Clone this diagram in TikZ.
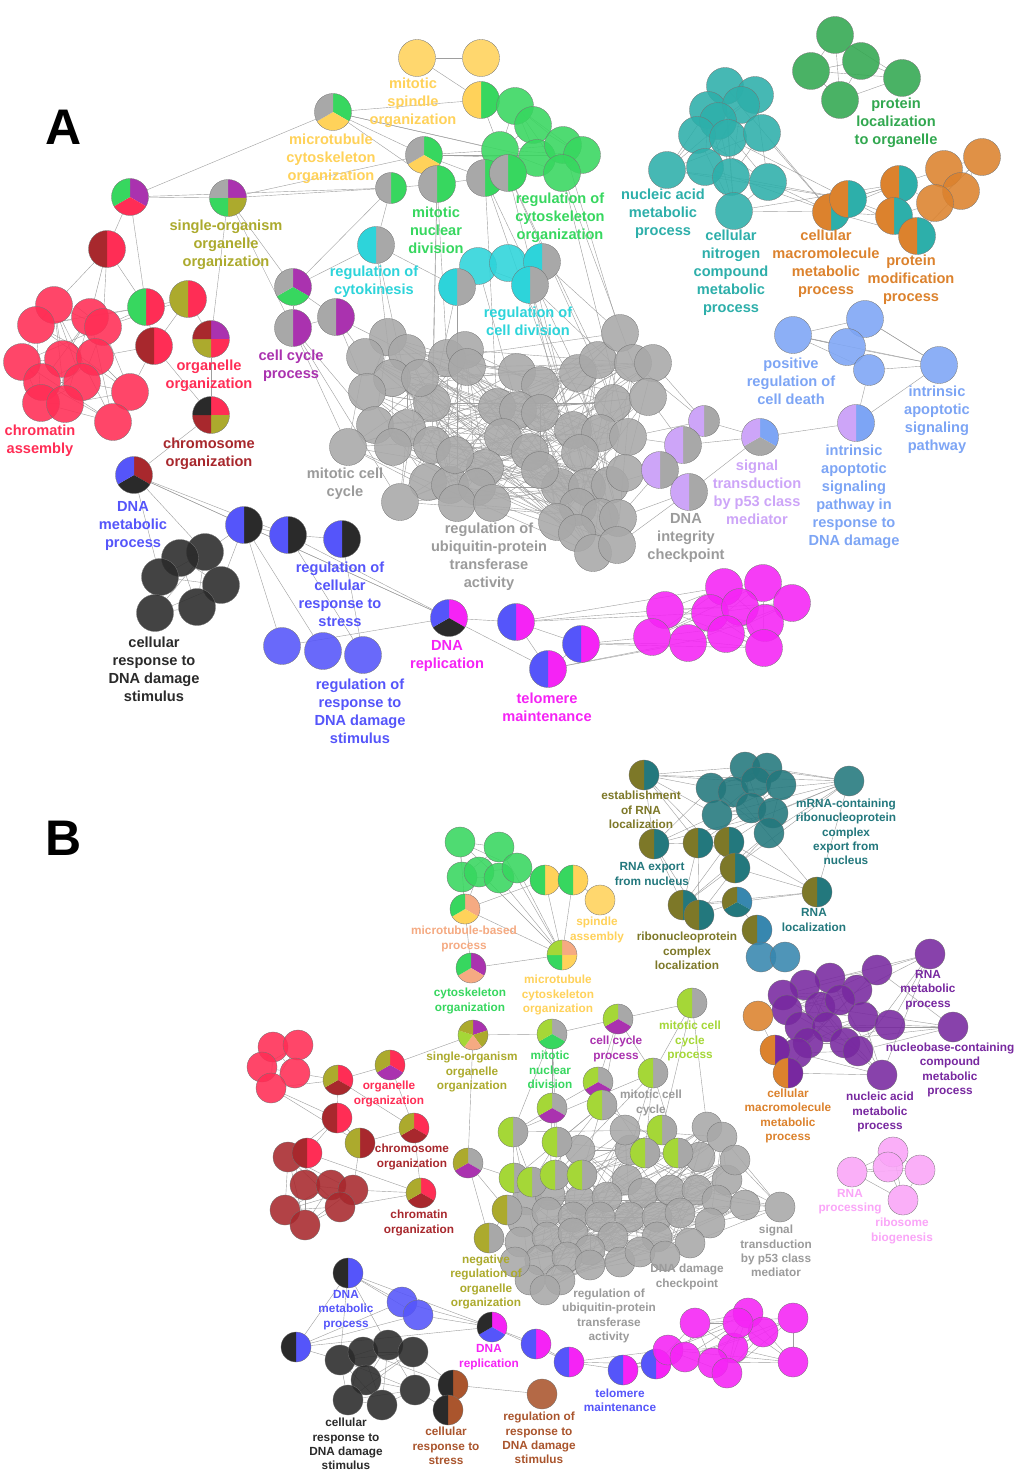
\documentclass[tikz,border=0pt]{standalone}
\usepackage{fontspec}
\setmainfont{Liberation Sans}
\pgfdeclarelayer{bg}
\pgfdeclarelayer{paper}
\pgfsetlayers{paper,bg,main}
\definecolor{cRed}{RGB}{255,45,85}
\definecolor{cDrd}{RGB}{168,40,45}
\definecolor{cGrn}{RGB}{55,215,95}
\definecolor{cYel}{RGB}{255,210,90}
\definecolor{cGry}{RGB}{168,168,168}
\definecolor{cGtx}{RGB}{155,155,155}
\definecolor{cPur}{RGB}{170,50,175}
\definecolor{cOli}{RGB}{172,170,45}
\definecolor{cCya}{RGB}{45,212,218}
\definecolor{cTea}{RGB}{45,175,170}
\definecolor{cPgr}{RGB}{50,168,80}
\definecolor{cOra}{RGB}{220,130,45}
\definecolor{cCor}{RGB}{125,165,245}
\definecolor{cLav}{RGB}{205,165,248}
\definecolor{cBlu}{RGB}{85,85,250}
\definecolor{cBlk}{RGB}{42,42,42}
\definecolor{cMag}{RGB}{245,35,245}
\definecolor{cBte}{RGB}{35,120,125}
\definecolor{cBol}{RGB}{125,120,40}
\definecolor{cSte}{RGB}{55,135,175}
\definecolor{cBpu}{RGB}{120,40,160}
\definecolor{cPnk}{RGB}{250,165,248}
\definecolor{cSal}{RGB}{245,170,130}
\definecolor{cYgr}{RGB}{165,215,55}
\definecolor{cBrn}{RGB}{170,85,45}
\tikzset{
  na/.style={circle,inner sep=0pt,minimum size=37pt,draw=black!55,line width=0.3pt},
  nas/.style={na,minimum size=31pt},
  nb/.style={circle,inner sep=0pt,minimum size=30pt,draw=black!55,line width=0.3pt},
  fs/.style={fill=#1,fill opacity=0.88},
  pie/.style 2 args={path picture={
    \begin{scope}[shift={(path picture bounding box.center)}]
    \foreach \col [count=\ii from 0] in {#2}{
      \pgfmathsetmacro\angA{90-\ii*360/#1}
      \pgfmathsetmacro\angB{90-(\ii+0.5)*360/#1}
      \pgfmathsetmacro\angC{90-(\ii+1)*360/#1}
      \fill[\col] (0,0) -- (\angA:40pt) -- (\angB:40pt) -- (\angC:40pt) -- cycle;}
    \end{scope}}},
  lnk/.style={draw=black!38,line width=0.4pt},
  la/.style={font=\fontsize{14.6}{18}\selectfont\bfseries,align=center,inner sep=0pt,text=#1},
  lb/.style={font=\fontsize{11.8}{14.3}\selectfont\bfseries,align=center,inner sep=0pt,text=#1}
}
\newcommand\meshit[3]{\foreach \ii in {1,...,#2}{\foreach \kk in {#3}{\pgfmathtruncatemacro\jj{mod(\ii+\kk-1,#2)+1}\draw[lnk] (#1\ii) -- (#1\jj);}}}
\begin{document}
\begin{tikzpicture}[x=1pt,y=-1pt]
\begin{pgfonlayer}{paper}
\fill[white] (0,0) rectangle (1020,1474);
\end{pgfonlayer}
\useasboundingbox (0,0) rectangle (1020,1474);
% ================= PANEL A =================
\node[font=\fontsize{50}{50}\selectfont\bfseries,inner sep=0pt] (letA) at (64,127) {A};
\node[font=\fontsize{50}{50}\selectfont\bfseries,inner sep=0pt] (letB) at (64,838) {B};
% gray cluster A
\foreach \x/\y [count=\i] in {388/337,407/353,365/357,392/378,367/392,447/358,465/350,467/367,432/403,375/425,407/428,348/447,393/447,432/445,517/372,540/385,497/407,518/410,540/413,503/437,578/373,598/360,620/333,633/363,653/363,613/403,648/397,573/430,600/433,628/437,580/453,485/468,428/482,450/485,477/487,400/502,457/503,492/503,560/487,587/487,610/485,625/473,578/507,557/522,600/517,618/518,577/533,593/553,617/545,530/452,455/455,540/470,420/378}
  \node[na,fs=cGry] (aX\i) at (\x,\y) {};
% yellow / green top
\foreach \x/\y [count=\i] in {417/58,481/58} \node[na,fs=cYel] (aY\i) at (\x,\y) {};
\node[na,pie={2}{cGrn,cYel}] (aMs) at (481,100) {};
\foreach \x/\y [count=\i] in {515/106,533/125,500/150,537/158,563/145,582/155,562/173} \node[na,fs=cGrn] (aG\i) at (\x,\y) {};
\node[na,pie={3}{cGrn,cYel,cGry}] (aMtA) at (333,112) {};
\node[na,pie={3}{cGrn,cYel,cGry}] (aMtB) at (424,155) {};
\node[nas,pie={2}{cGrn,cGry}] (aH1) at (391,188) {};
\foreach \x/\y [count=\i from 2] in {437/184,485/178,508/173} \node[na,pie={2}{cGrn,cGry}] (aH\i) at (\x,\y) {};
\node[na,pie={3}{cPur,cRed,cGrn}] (aTri) at (130,197) {};
\node[na,pie={4}{cPur,cOli,cGrn,cGry}] (aSo) at (228,198) {};
% cyan
\node[na,pie={2}{cGry,cCya}] (aCy1) at (376,245) {};
\foreach \x/\y [count=\i] in {478/266,508/263} \node[na,fs=cCya] (aC\i) at (\x,\y) {};
\foreach \x/\y [count=\i from 2] in {457/287,542/262,530/285} \node[na,pie={2}{cGry,cCya}] (aCy\i) at (\x,\y) {};
% purple
\node[na,pie={3}{cPur,cGrn,cGry}] (aCcA) at (293,287) {};
\node[na,pie={2}{cPur,cGry}] (aCcB) at (293,328) {};
\node[na,pie={2}{cPur,cGry}] (aCcC) at (336,317) {};
% red
\foreach \x/\y [count=\i] in {54/305,36/325,90/317,103/327,22/362,63/359,95/357,42/382,82/382,41/403,65/404,130/392,113/422}
  \node[na,fs=cRed] (aR\i) at (\x,\y) {};
\node[na,pie={2}{cRed,cDrd}] (aRa) at (107,249) {};
\node[na,pie={2}{cRed,cGrn}] (aRb) at (146,307) {};
\node[na,pie={2}{cRed,cOli}] (aRc) at (188,299) {};
\node[na,pie={4}{cPur,cRed,cOli,cDrd}] (aRd) at (211,339) {};
\node[na,pie={2}{cRed,cDrd}] (aRe) at (154,346) {};
\node[na,pie={4}{cRed,cOli,cDrd,cBlk}] (aRf) at (211,415) {};
% teal
\foreach \x/\y [count=\i] in {725/86,755/95,708/110,741/105,718/121,697/135,728/138,762/133,667/170,705/167,731/177,768/182,734/211}
  \node[na,fs=cTea] (aT\i) at (\x,\y) {};
% protein localization
\foreach \x/\y [count=\i] in {835/35,811/71,861/61,902/78,840/100} \node[na,fs=cPgr] (aP\i) at (\x,\y) {};
% orange
\foreach \x/\y [count=\i] in {944/169,982/157,961/191,935/203} \node[na,fs=cOra] (aO\i) at (\x,\y) {};
\foreach \x/\y [count=\i] in {831/212,848/199,899/184,894/216,917/236} \node[na,pie={2}{cTea,cOra}] (aQ\i) at (\x,\y) {};
% cornflower / lavender
\foreach \x/\y [count=\i] in {793/335,865/319,847/347,939/365} \node[na,fs=cCor] (aB\i) at (\x,\y) {};
\node[nas,fs=cCor] (aB5) at (869,370) {};
\node[na,pie={2}{cCor,cLav}] (aIa) at (856,423) {};
\node[na,pie={3}{cCor,cGry,cLav}] (aSp) at (760,437) {};
\node[nas,pie={2}{cGry,cLav}] (aL1) at (704,421) {};
\foreach \x/\y [count=\i from 2] in {683/445,660/470,689/492} \node[na,pie={2}{cGry,cLav}] (aL\i) at (\x,\y) {};
% bottom A
\node[na,pie={3}{cDrd,cBlk,cBlu}] (aDm) at (134,475) {};
\foreach \x/\y [count=\i] in {244/525,288/535,342/539} \node[na,pie={2}{cBlk,cBlu}] (aN\i) at (\x,\y) {};
\foreach \x/\y [count=\i] in {205/552,180/558,160/577,221/585,155/613,197/607} \node[na,fs=cBlk] (aK\i) at (\x,\y) {};
\foreach \x/\y [count=\i] in {282/646,323/651,363/655} \node[na,fs=cBlu] (aU\i) at (\x,\y) {};
\node[na,pie={3}{cMag,cBlk,cBlu}] (aDr) at (449,618) {};
\foreach \x/\y [count=\i] in {516/622,581/644,548/669} \node[na,pie={2}{cMag,cBlu}] (aV\i) at (\x,\y) {};
\foreach \x/\y [count=\i] in {665/610,724/587,763/583,792/603,710/613,740/607,765/623,652/637,688/643,726/634,764/648}
  \node[na,fs=cMag] (aM\i) at (\x,\y) {};
% ================= PANEL B =================
\foreach \x/\y [count=\i] in {707/1127,722/1137,630/1150,700/1157,727/1180,627/1180,643/1193,670/1190,697/1190,717/1200,630/1217,657/1217,680/1213,710/1223,690/1243,657/1237,527/1200,550/1195,580/1200,607/1197,523/1222,547/1212,573/1217,600/1217,613/1237,520/1242,547/1237,573/1233,590/1250,540/1260,567/1257,590/1265,530/1280,560/1280,545/1290,620/1262,640/1252,735/1160,745/1205,665/1256,515/1262,625/1130,580/1150}
  \node[nb,fs=cGry] (bX\i) at (\x,\y) {};
\node[nb,fs=cGry] (bSig) at (780,1207) {};
% teal/olive
\foreach \x/\y [count=\i] in {745/767,767/768,711/788,733/792,756/782,781/785,717/815,751/808,773/813,769/833,849/781}
  \node[nb,fs=cBte] (bT\i) at (\x,\y) {};
\foreach \x/\y [count=\i] in {644/775,654/844,698/843,729/842,735/868,817/892,683/905,699/915}
  \node[nb,pie={2}{cBte,cBol}] (bQ\i) at (\x,\y) {};
\node[nb,pie={3}{cSte,cBte,cBol}] (bRc) at (737,902) {};
\node[nb,pie={2}{cSte,cBol}] (bOb) at (757,930) {};
\foreach \x/\y [count=\i] in {761/957,785/957} \node[nb,fs=cSte] (bS\i) at (\x,\y) {};
% green B
\foreach \x/\y [count=\i] in {460/842,499/847,462/877,479/872,499/878,517/868} \node[nb,fs=cGrn] (bG\i) at (\x,\y) {};
\foreach \x/\y [count=\i] in {545/880,573/880} \node[nb,pie={2}{cYel,cGrn}] (bGy\i) at (\x,\y) {};
\node[nb,fs=cYel] (bY1) at (600,900) {};
\node[nb,pie={3}{cSal,cYel,cGrn}] (bMb) at (465,909) {};
\node[nb,pie={4}{cSal,cYel,cGrn,cYgr}] (bMc) at (562,955) {};
\node[nb,pie={3}{cPur,cSal,cGrn}] (bCo) at (471,968) {};
\node[nb,pie={5}{cPur,cOli,cSal,cYgr,cOli}] (bSo) at (473,1035) {};
\node[nb,pie={3}{cRed,cPur,cOli}] (bOo) at (390,1065) {};
\node[nb,pie={3}{cGry,cGrn,cYgr}] (bMn) at (552,1034) {};
\node[nb,pie={3}{cGry,cPur,cYgr}] (bCc) at (618,1019) {};
\node[nb,pie={2}{cGry,cYgr}] (bMcc) at (692,1003) {};
\node[nb,pie={3}{cGry,cPur,cYgr}] (bPa) at (598,1082) {};
\foreach \x/\y [count=\i] in {653/1073,602/1105,513/1132,557/1142,662/1130,645/1153,678/1153,514/1178,532/1182,555/1175,582/1175}
  \node[nb,pie={2}{cGry,cYgr}] (bW\i) at (\x,\y) {};
\node[nb,pie={3}{cGry,cPur,cYgr}] (bPb) at (552,1108) {};
\foreach \x/\y [count=\i] in {507/1210,489/1238} \node[nb,pie={2}{cGry,cOli}] (bE\i) at (\x,\y) {};
\node[nb,pie={3}{cGry,cPur,cOli}] (bNeg) at (468,1163) {};
% red B
\foreach \x/\y [count=\i] in {273/1047,298/1045,262/1067,295/1073,271/1088} \node[nb,fs=cRed] (bR\i) at (\x,\y) {};
\foreach \x/\y [count=\i] in {288/1157,305/1185,331/1185,353/1190,285/1210,340/1207,305/1225} \node[nb,fs=cDrd] (bD\i) at (\x,\y) {};
\node[nb,pie={3}{cRed,cDrd,cOli}] (bRa) at (338,1080) {};
\node[nb,pie={2}{cRed,cDrd}] (bRb) at (337,1118) {};
\node[nb,pie={3}{cRed,cDrd,cOli}] (bRx) at (414,1128) {};
\node[nb,pie={2}{cDrd,cOli}] (bRd) at (360,1143) {};
\node[nb,pie={2}{cRed,cDrd}] (bRe) at (307,1153) {};
\node[nb,pie={3}{cRed,cDrd,cOli}] (bChr) at (421,1193) {};
% purple B
\foreach \x/\y [count=\i] in {930/954,877/970,830/978,805/985,783/995,857/990,820/1007,840/1000,787/1010,800/1027,827/1027,863/1017,890/1025,953/1027,808/1043,845/1043,858/1051,797/1053,882/1075}
  \node[nb,fs=cBpu] (bU\i) at (\x,\y) {};
\node[nb,fs=cOra] (bO1) at (758,1016) {};
\foreach \x/\y [count=\i] in {775/1050,788/1073} \node[nb,pie={2}{cBpu,cOra}] (bOp\i) at (\x,\y) {};
\foreach \x/\y [count=\i] in {852/1172,893/1152,888/1167,920/1170,903/1200} \node[nb,fs=cPnk] (bPk\i) at (\x,\y) {};
% bottom B
\foreach \x/\y [count=\i] in {348/1273,296/1347} \node[nb,pie={2}{cBlu,cBlk}] (bN\i) at (\x,\y) {};
\foreach \x/\y [count=\i] in {402/1302,418/1315} \node[nb,fs=cBlu] (bBl\i) at (\x,\y) {};
\foreach \x/\y [count=\i] in {340/1360,363/1352,388/1345,413/1352,366/1380,415/1390,348/1400,382/1405} \node[nb,fs=cBlk] (bK\i) at (\x,\y) {};
\foreach \x/\y [count=\i] in {453/1385,448/1410} \node[nb,pie={2}{cBrn,cBlk}] (bBr\i) at (\x,\y) {};
\node[nb,fs=cBrn] (bBs) at (542,1394) {};
\node[nb,pie={3}{cMag,cBlu,cBlk}] (bDr) at (492,1327) {};
\foreach \x/\y [count=\i] in {536/1344,569/1362,623/1370,656/1364} \node[nb,pie={2}{cMag,cBlu}] (bV\i) at (\x,\y) {};
\foreach \x/\y [count=\i] in {695/1323,748/1313,763/1332,733/1348,668/1350,685/1357,713/1363,727/1373,793/1318,793/1362,738/1323}
  \node[nb,fs=cMag] (bM\i) at (\x,\y) {};
% ================= EDGES =================
\begin{pgfonlayer}{bg}
\meshit{aX}{53}{4,9,17,25}
\meshit{aR}{13}{1,3,5}
\meshit{aT}{13}{1,3,6}
\meshit{aM}{11}{1,3,5}
\meshit{aK}{6}{1,2}
\meshit{aO}{4}{1,2}
\meshit{aQ}{5}{1,2}
\meshit{aB}{4}{1,2}
\meshit{aP}{5}{1,2}
\meshit{aG}{7}{1,2,3}
\foreach \u/\v in {aY1/aY2,aY1/aMs,aMs/aMtA,aMs/aG1,aMs/aG3,aMtA/aMtB,aMtA/aTri,aMtA/aG3,aMtA/aG4,aMtA/aH2,aMtB/aG3,aMtB/aG4,aMtB/aG6,aMtB/aH2,aMtB/aH3,aTri/aSo,aTri/aH1,aTri/aRb,aTri/aRa,aSo/aH1,aSo/aMtB,aSo/aRd,aSo/aCcA,aSo/aCcB,aH1/aH2,aH2/aH3,aH3/aH4,aH1/aCy1,aH1/aCcA,aH2/aX6,aH2/aX14,aH2/aX9,aH3/aX21,aH3/aX17,aH3/aX28,aH4/aX26,aH4/aX40,aH4/aX22,aG7/aX30,aG7/aX24,aG5/aX23,aCy1/aX4,aCy1/aX33,aCy1/aCy2,aCy1/aCcA,aCy2/aX9,aCy2/aC1,aC1/aC2,aC2/aCy3,aCy3/aCy4,aC1/aCy4,aCy3/aX23,aCy4/aX27,aCy4/aX45,aC1/aX18,aC2/aX29,aCy2/aX37,aCy4/aX48,aCcA/aCcB,aCcA/aCcC,aCcB/aX12,aCcB/aX10,aCcB/aX36,aCcC/aX3,aCcC/aX5,aCcC/aX2,aCcB/aCcC}
  \draw[lnk] (\u) -- (\v);
\foreach \u/\v in {aRa/aR1,aRa/aR3,aRa/aRb,aRa/aR4,aRb/aR4,aRb/aRc,aRb/aR3,aRb/aRe,aRc/aRe,aRc/aRd,aRe/aR7,aRe/aR12,aRe/aRf,aRd/aRf,aRf/aDm,aRc/aR4,aRb/aR2,aDm/aK1,aDm/aK3,aDm/aN1,aDm/aN2,aDm/aDr,aN1/aN2,aN2/aN3,aN1/aK1,aN1/aK4,aN1/aU1,aN1/aU2,aN2/aU3,aN2/aDr,aN3/aU3,aU1/aDr,aN1/aDr,aDr/aV1,aDr/aV3,aV1/aV2,aV2/aV3,aV1/aV3,aV1/aM1,aV1/aM5,aV1/aM2,aV2/aM8,aV2/aM9,aV2/aM11,aV3/aM9,aV3/aM10}
  \draw[lnk] (\u) -- (\v);
\foreach \u/\v in {aL1/aX25,aL1/aX30,aL1/aX24,aL2/aX27,aL2/aX42,aL2/aX30,aL3/aX46,aL3/aX41,aL3/aX42,aL4/aX49,aL4/aX46,aL1/aL2,aL2/aL3,aL3/aL4,aL1/aSp,aL2/aSp,aL4/aSp,aSp/aIa,aIa/aB4,aIa/aB5,aB5/aB4,aB1/aB5,aB3/aB5,aT13/aQ1,aT12/aQ1,aT11/aQ2,aT8/aQ1,aT10/aQ1,aT9/aQ2,aT7/aQ2,aT4/aQ1,aT13/aQ3,aQ3/aO4,aQ4/aO4,aQ2/aQ3,aQ3/aO1,aQ5/aO3}
  \draw[lnk] (\u) -- (\v);
\meshit{bT}{11}{1,2,4}
\meshit{bG}{6}{1,2}
\meshit{bR}{5}{1,2}
\meshit{bD}{7}{1,2,3}
\meshit{bU}{19}{1,3,7}
\meshit{bX}{43}{3,7,12,18}
\meshit{bK}{8}{1,2,3}
\meshit{bM}{11}{1,3,5}
\meshit{bPk}{5}{1,2}
\meshit{bW}{11}{2,5}
\foreach \u/\v in {bQ1/bT3,bQ1/bT1,bQ1/bT5,bQ1/bT7,bQ1/bQ2,bQ1/bQ3,bQ1/bQ5,bQ2/bT3,bQ2/bT7,bQ2/bQ3,bQ2/bQ7,bQ2/bQ8,bQ3/bT8,bQ3/bQ4,bQ3/bQ7,bQ4/bT9,bQ4/bQ6,bQ4/bQ7,bQ5/bT10,bQ5/bQ6,bQ6/bT11,bQ6/bT4,bQ6/bRc,bQ7/bRc,bQ8/bRc,bRc/bOb,bOb/bS1,bS1/bS2,bT11/bQ1,bT11/bQ3,bT11/bQ7,bT10/bQ7,bT9/bQ2,bQ5/bQ8,bQ3/bQ8,bQ6/bQ7}
  \draw[lnk] (\u) -- (\v);
\foreach \u/\v in {bG1/bMb,bG3/bMb,bG4/bMb,bG2/bMc,bG4/bMc,bG5/bMc,bG6/bMc,bGy1/bMc,bGy2/bMc,bGy1/bMb,bGy2/bY1,bGy1/bGy2,bG6/bGy1,bMb/bMc,bMb/bCo,bCo/bMc,bSo/bMn,bMn/bCc,bCc/bMcc,bSo/bOo,bSo/bNeg,bOo/bRa,bOo/bRx,bRa/bR4,bRa/bR5,bRa/bRb,bRb/bRe,bRb/bRd,bRb/bD1,bRd/bRx,bRd/bD4,bRd/bR5,bRx/bChr,bRx/bRa,bChr/bD4,bChr/bD6,bChr/bRe,bRe/bD2,bRe/bD1,bR5/bRb}
  \draw[lnk] (\u) -- (\v);
\foreach \u/\v in {bMn/bPb,bMn/bW3,bMn/bW4,bCc/bPa,bCc/bW1,bCc/bW2,bMcc/bW1,bMcc/bW5,bMcc/bX1,bPa/bW2,bPa/bW6,bPa/bPb,bPb/bW3,bPb/bW4,bPb/bX18,bW1/bX3,bW2/bX17,bW5/bX4,bW6/bX8,bW7/bX10,bW8/bX21,bW9/bX22,bW10/bX19,bW11/bX20,bW3/bX17,bW4/bX23,bE1/bX21,bE1/bX26,bE2/bX26,bE2/bX30,bE1/bE2,bNeg/bE1,bNeg/bE2,bNeg/bW8,bSig/bX5,bSig/bX10,bSig/bX14,bSig/bX2,bSig/bX15,bSig/bX9,bSig/bX38,bSig/bX39,bO1/bOp1,bOp1/bOp2,bOp1/bU10,bOp2/bU15,bO1/bU5,bOp2/bU19}
  \draw[lnk] (\u) -- (\v);
\foreach \u/\v in {bN1/bBl1,bN1/bN2,bN1/bK1,bN1/bK3,bN1/bBl2,bN1/bDr,bN2/bK1,bN2/bBl1,bN2/bDr,bN2/bBl2,bBl1/bBl2,bBl2/bDr,bBl1/bDr,bK4/bBr1,bK6/bBr2,bBr1/bBr2,bBr1/bBs,bDr/bV1,bDr/bV2,bV1/bV2,bV2/bV3,bV3/bV4,bV2/bV4,bV2/bM5,bV3/bM6,bV4/bM1,bV4/bM5,bV3/bM5,bV4/bM6,bK2/bBr1}
  \draw[lnk] (\u) -- (\v);
\end{pgfonlayer}
% ================= LABELS A =================
\node[la=cYel] (tA1) at (413,103) {mitotic\\spindle\\organization};
\node[la=cYel] (tA2) at (331,159) {microtubule\\cytoskeleton\\organization};
\node[la=cOli] (tA3) at (226,245) {single-organism\\organelle\\organization};
\node[la=cGrn] (tA4) at (436,230) {mitotic\\nuclear\\division};
\node[la=cGrn] (tA5) at (560,218) {regulation of\\cytoskeleton\\organization};
\node[la=cCya] (tA6) at (374,282) {regulation of\\cytokinesis};
\node[la=cCya] (tA7) at (528,321) {regulation of\\cell division};
\node[la=cPur] (tA8) at (291,366) {cell cycle\\process};
\node[la=cRed] (tA9) at (209,376) {organelle\\organization};
\node[la=cRed] (tA10) at (40,441) {chromatin\\assembly};
\node[la=cDrd] (tA11) at (209,454) {chromosome\\organization};
\node[la=cGtx] (tA12) at (345,484) {mitotic cell\\cycle};
\node[la=cBlu] (tA13) at (133,526) {DNA\\metabolic\\process};
\node[la=cGtx] (tA14) at (489,557) {regulation of\\ubiquitin-protein\\transferase\\activity};
\node[la=cTea] (tA15) at (663,214) {nucleic acid\\metabolic\\process};
\node[la=cTea] (tA16) at (731,273) {cellular\\nitrogen\\compound\\metabolic\\process};
\node[la=cOra] (tA17) at (826,264) {cellular\\macromolecule\\metabolic\\process};
\node[la=cOra] (tA18) at (911,280) {protein\\modification\\process};
\node[la=cPgr] (tA19) at (896,123) {protein\\localization\\to organelle};
\node[la=cCor] (tA20) at (791,381) {positive\\regulation of\\cell death};
\node[la=cCor] (tA21) at (937,420) {intrinsic\\apoptotic\\signaling\\pathway};
\node[la=cLav] (tA22) at (757,492) {signal\\transduction\\by p53 class\\mediator};
\node[la=cCor] (tA23) at (854,497) {intrinsic\\apoptotic\\signaling\\pathway in\\response to\\DNA damage};
\node[la=cGtx] (tA24) at (686,538) {DNA\\integrity\\checkpoint};
\node[la=cBlu] (tA25) at (340,594) {regulation of\\cellular\\response to\\stress};
\node[la=cBlk] (tA26) at (154,669) {cellular\\response to\\DNA damage\\stimulus};
\node[la=cBlu] (tA27) at (360,711) {regulation of\\response to\\DNA damage\\stimulus};
\node[la=cMag] (tA28) at (447,656) {DNA\\replication};
\node[la=cMag] (tA29) at (547,707) {telomere\\maintenance};
% ================= LABELS B =================
\node[lb=cBol] (tB1) at (641,810) {establishment\\of RNA\\localization};
\node[lb=cBte] (tB2) at (846,832) {mRNA-containing\\ribonucleoprotein\\complex\\export from\\nucleus};
\node[lb=cBte] (tB3) at (652,874) {RNA export\\from nucleus};
\node[lb=cBte] (tB4) at (814,920) {RNA\\localization};
\node[lb=cBol] (tB5) at (687,951) {ribonucleoprotein\\complex\\localization};
\node[lb=cSal] (tB6) at (464,939) {microtubule-based\\process};
\node[lb=cYel] (tB7) at (597,930) {spindle\\assembly};
\node[lb=cYel] (tB8) at (558,995) {microtubule\\cytoskeleton\\organization};
\node[lb=cGrn] (tB9) at (470,1001) {cytoskeleton\\organization};
\node[lb=cOli] (tB10) at (472,1072) {single-organism\\organelle\\organization};
\node[lb=cGrn] (tB11) at (550,1070) {mitotic\\nuclear\\division};
\node[lb=cPur] (tB12) at (616,1049) {cell cycle\\process};
\node[lb=cYgr] (tB13) at (690,1041) {mitotic cell\\cycle\\process};
\node[lb=cGtx] (tB14) at (651,1103) {mitotic cell\\cycle};
\node[lb=cRed] (tB15) at (389,1094) {organelle\\organization};
\node[lb=cDrd] (tB16) at (412,1157) {chromosome\\organization};
\node[lb=cDrd] (tB17) at (419,1223) {chromatin\\organization};
\node[lb=cOli] (tB18) at (486,1282) {negative\\regulation of\\organelle\\organization};
\node[lb=cGtx] (tB19) at (687,1277) {DNA damage\\checkpoint};
\node[lb=cGtx] (tB20) at (776,1251) {signal\\transduction\\by p53 class\\mediator};
\node[lb=cGtx] (tB21) at (609,1316) {regulation of\\ubiquitin-protein\\transferase\\activity};
\node[lb=cBlu] (tB22) at (346,1310) {DNA\\metabolic\\process};
\node[lb=cMag] (tB23) at (489,1357) {DNA\\replication};
\node[lb=cBlu] (tB24) at (620,1400) {telomere\\maintenance};
\node[lb=cBlk] (tB25) at (346,1444) {cellular\\response to\\DNA damage\\stimulus};
\node[lb=cBrn] (tB26) at (446,1446) {cellular\\response to\\stress};
\node[lb=cBrn] (tB27) at (539,1438) {regulation of\\response to\\DNA damage\\stimulus};
\node[lb=cBpu] (tB28) at (928,990) {RNA\\metabolic\\process};
\node[lb=cBpu] (tB29) at (950,1070) {nucleobase-containing\\compound\\metabolic\\process};
\node[lb=cBpu] (tB30) at (880,1112) {nucleic acid\\metabolic\\process};
\node[lb=cOra] (tB31) at (788,1116) {cellular\\macromolecule\\metabolic\\process};
\node[lb=cPnk] (tB32) at (850,1202) {RNA\\processing};
\node[lb=cPnk] (tB33) at (902,1231) {ribosome\\biogenesis};
\end{tikzpicture}
\end{document}
